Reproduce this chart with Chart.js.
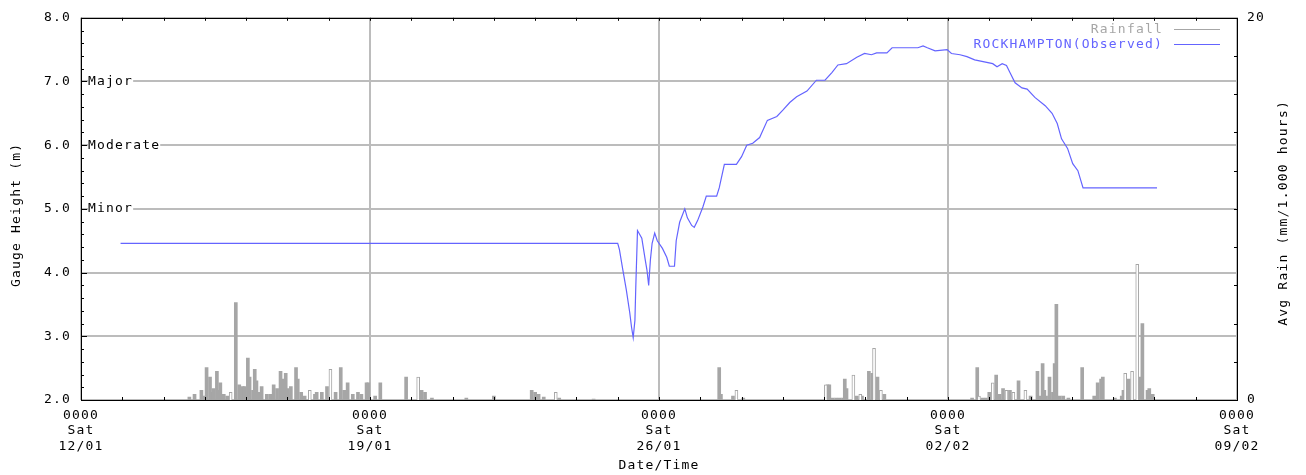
<!DOCTYPE html>
<html>
<head>
<meta charset="utf-8">
<script src="https://cdn.jsdelivr.net/npm/chart.js@4.4.1/dist/chart.umd.min.js"></script>
<style>
html, body { margin: 0; padding: 0; background: #fff; }
</style>
</head>
<body>
<canvas id="grafico" width="1306" height="475"></canvas>
<script>
// horas desde Sat 12/01 0000
const levelHours = [23, 311, 312, 313, 315, 317, 319, 320, 321, 322, 322.5, 323.5, 326, 328, 329, 330, 331, 332, 333.5, 335, 338, 340.5, 342, 345, 346, 348, 351, 352.5, 355, 356.5, 358.5, 361.5, 363.5, 369.5, 371, 374, 381, 384, 387, 390.5, 394.5, 399, 404.5, 408, 412, 416, 422, 427.5, 432.5, 436.5, 440, 445, 451, 455.5, 459.5, 462.5, 468.5, 471.5, 486.5, 489.5, 492, 496.5, 503.5, 506, 511, 515, 519.5, 530, 532.5, 535.5, 538, 540, 543, 547, 550, 554.5, 560.5, 564.5, 567.5, 570, 573.5, 576.5, 579.5, 582.5, 625.5];
const levelHeights = [4.46, 4.46, 4.46, 4.36, 4.04, 3.73, 3.37, 3.15, 2.98, 3.25, 3.77, 4.66, 4.54, 4.2, 4.04, 3.8, 4.2, 4.46, 4.62, 4.5, 4.38, 4.24, 4.1, 4.1, 4.5, 4.79, 5.0, 4.86, 4.74, 4.71, 4.82, 5.03, 5.2, 5.2, 5.33, 5.7, 5.7, 5.82, 6.0, 6.03, 6.12, 6.39, 6.45, 6.55, 6.67, 6.76, 6.85, 7.02, 7.02, 7.14, 7.26, 7.28, 7.38, 7.44, 7.42, 7.45, 7.45, 7.53, 7.53, 7.56, 7.53, 7.48, 7.5, 7.44, 7.42, 7.39, 7.34, 7.28, 7.23, 7.28, 7.25, 7.14, 6.98, 6.9, 6.88, 6.75, 6.62, 6.5, 6.34, 6.1, 5.95, 5.71, 5.6, 5.33, 5.33];

const rainHours = [63, 66, 70, 71, 73, 75, 76, 77, 79, 80, 81, 83, 85, 90, 92, 94, 95, 97, 98, 100, 101, 102, 103, 105, 108, 110, 112, 114, 116, 117, 119, 120, 122, 125, 126, 128, 130, 136, 137, 140, 143, 148, 151, 153, 155, 158, 161, 163, 166, 167, 171, 174, 189, 198, 200, 204, 224, 240, 262, 264, 266, 269, 278, 298,
  371, 372, 379, 385, 434, 435, 437, 439, 441, 443, 444, 445, 451, 454, 458, 460, 463, 467,
  518, 521, 524, 526, 528, 532, 534, 536, 540, 545, 552, 556, 557, 559, 560, 561, 563, 565, 566, 567, 569, 571, 574, 582, 589, 591, 593, 594, 601, 605, 606, 609, 616, 617, 620, 621, 623];
const rainMm = [0.15, 0.3, 0.5, 0.2, 1.7, 1.2, 0.4, 0.6, 1.5, 0.5, 0.9, 0.3, 0.2, 5.1, 0.8, 0.7, 0.7, 2.2, 1.2, 0.5, 1.6, 1.0, 0.4, 0.7, 0.3, 0.3, 0.8, 0.6, 1.5, 1.1, 1.4, 0.6, 0.7, 1.7, 1.1, 0.4, 0.2, 0.3, 0.4, 0.4, 0.7, 0.4, 1.7, 0.5, 0.9, 0.3, 0.4, 0.3, 0.9, 0.9, 0.2, 0.9, 1.2, 0.5, 0.4, 0.1, 0.1, 0.2, 0.5, 0.4, 0.3, 0.15, 0.1, 0.05,
  1.7, 0.3, 0.2, 0.1, 0.8, 0.8, 0.1, 0.1, 0.1, 0.1, 1.1, 0.6, 0.2, 0.2, 1.5, 1.4, 1.2, 0.3,
  0.1, 1.7, 0.1, 0.1, 0.4, 1.3, 0.3, 0.6, 0.5, 1.0, 0.2, 1.5, 0.2, 1.9, 0.5, 0.2, 1.2, 0.4, 1.9, 5.0, 0.2, 0.2, 0.1, 1.7, 0.2, 0.9, 1.1, 1.2, 0.1, 0.2, 0.5, 1.1, 1.2, 4.0, 0.5, 0.6, 0.3];
// barras vazadas
const rainOpenHours = [87, 133, 145, 196, 276, 381, 433, 449, 453, 461, 465, 522, 530, 538, 542, 549, 607, 611, 614];
const rainOpenMm = [0.4, 0.5, 1.6, 1.2, 0.4, 0.5, 0.8, 1.3, 0.3, 2.7, 0.5, 0.2, 0.9, 0.5, 0.4, 0.5, 1.4, 1.5, 7.1];

const weekTicks = [0, 168, 336, 504, 672];
const weekLabels = [['0000', 'Sat', '12/01'], ['0000', 'Sat', '19/01'], ['0000', 'Sat', '26/01'], ['0000', 'Sat', '02/02'], ['0000', 'Sat', '09/02']];
const floodLevels = [5, 6, 7];
const floodNames = ['Minor', 'Moderate', 'Major'];

const FONTE = '13px "DejaVu Sans Mono"';
const AZUL = '#6464ff';
const CINZA = '#a6a6a6';

const extras = {
    id: 'extras',
    beforeDraw(chart) {
        chart.ctx.letterSpacing = '1.2px';
    },
    afterDraw(chart) {
        const ctx = chart.ctx;
        const {left, right, top, bottom} = chart.chartArea;
        const x = chart.scales.x, y = chart.scales.y, y1 = chart.scales.y1;
        ctx.save();
        ctx.letterSpacing = '1.2px';
        ctx.font = FONTE;
        ctx.strokeStyle = '#000';
        ctx.lineWidth = 1;
        ctx.beginPath();
        // tracinhos por dia
        for (let h = 0; h <= 672; h += 24) {
            const px = Math.round(x.getPixelForValue(h)) + 0.5;
            ctx.moveTo(px, bottom); ctx.lineTo(px, bottom - 3);
            ctx.moveTo(px, top); ctx.lineTo(px, top + 3);
        }
        for (let i = 0; i <= 30; i++) {
            const v = 2 + i * 0.2;
            const py = Math.round(y.getPixelForValue(v)) + 0.5;
            const len = i % 5 === 0 ? 6 : 3;
            ctx.moveTo(left, py); ctx.lineTo(left + len, py);
        }
        for (let v = 0; v <= 20; v += 2) {
            const py = Math.round(y1.getPixelForValue(v)) + 0.5;
            ctx.moveTo(right, py); ctx.lineTo(right - 3, py);
        }
        ctx.stroke();
        ctx.strokeRect(Math.round(left) + 0.5, Math.round(top) + 0.5, Math.round(right - left), Math.round(bottom - top));

        // niveis de cheia
        ctx.textBaseline = 'middle';
        ctx.textAlign = 'left';
        floodLevels.forEach((lv, i) => {
            const py = y.getPixelForValue(lv);
            const w = ctx.measureText(floodNames[i]).width;
            ctx.fillStyle = '#fff';
            ctx.fillRect(left + 7, py - 6, w, 12);
            ctx.fillStyle = '#000';
            ctx.fillText(floodNames[i], left + 7, py);
        });

        // legenda
        ctx.textAlign = 'right';
        const itens = [[chart.data.datasets[1].label, CINZA, 30], [chart.data.datasets[0].label, AZUL, 45]];
        itens.forEach(([txt, cor, ly]) => {
            ctx.fillStyle = cor;
            ctx.fillText(txt, right - 74, ly);
            ctx.strokeStyle = cor;
            ctx.beginPath();
            ctx.moveTo(right - 63, ly - 0.5);
            ctx.lineTo(right - 17, ly - 0.5);
            ctx.stroke();
        });

        // titulos
        ctx.fillStyle = '#000';
        ctx.textAlign = 'center';
        const cy = (top + bottom) / 2;
        ctx.save();
        ctx.translate(17, cy + 6);
        ctx.rotate(-Math.PI / 2);
        ctx.fillText('Gauge Height (m)', 0, 0);
        ctx.restore();
        ctx.save();
        ctx.translate(1284, cy + 4);
        ctx.rotate(-Math.PI / 2);
        ctx.fillText('Avg Rain (mm/1.000 hours)', 0, 0);
        ctx.restore();
        ctx.fillText('Date/Time', (left + right) / 2, 466);
        ctx.restore();
    }
};

const ctx = document.getElementById('grafico').getContext('2d');
const grafico = new Chart(ctx, {
    type: 'line',
    data: {
        datasets: [{
            label: 'ROCKHAMPTON(Observed)',
            data: levelHours.map((h, i) => ({x: h, y: levelHeights[i]})),
            borderColor: AZUL,
            borderWidth: 1.2,
            pointRadius: 0,
            tension: 0,
            yAxisID: 'y',
            order: 0
        }, {
            type: 'bar',
            label: 'Rainfall',
            data: rainHours.map((h, i) => ({x: h, y: rainMm[i]})),
            backgroundColor: CINZA,
            borderWidth: 0,
            barThickness: 3,
            grouped: false,
            yAxisID: 'y1',
            order: 2
        }, {
            type: 'bar',
            label: 'Rainfall (open)',
            data: rainOpenHours.map((h, i) => ({x: h, y: rainOpenMm[i]})),
            backgroundColor: '#fff',
            borderColor: CINZA,
            borderWidth: 1,
            barThickness: 3,
            grouped: false,
            yAxisID: 'y1',
            order: 1
        }]
    },
    options: {
        responsive: false,
        animation: false,
        layout: { padding: { top: 17, left: 0, right: 0, bottom: 0 } },
        plugins: { legend: { display: false }, tooltip: { enabled: false } },
        scales: {
            x: {
                type: 'linear',
                min: 0,
                max: 672,
                offset: false,
                afterFit: (s) => { s.height = 75; },
                afterBuildTicks: (s) => { s.ticks = weekTicks.map(v => ({value: v})); },
                ticks: {
                    autoSkip: false,
                    maxRotation: 0,
                    padding: 8,
                    color: '#000',
                    font: { family: 'DejaVu Sans Mono', size: 13, lineHeight: 1.18 },
                    callback: (v) => weekLabels[weekTicks.indexOf(v)]
                },
                grid: { color: '#bcbcbc', lineWidth: 2, drawTicks: false, offset: false },
                border: { display: false }
            },
            y: {
                position: 'left',
                min: 2,
                max: 8,
                afterFit: (s) => { s.width = 81; },
                ticks: {
                    stepSize: 1,
                    padding: 10,
                    color: '#000',
                    font: { family: 'DejaVu Sans Mono', size: 13 },
                    callback: (v) => v.toFixed(1)
                },
                grid: { color: '#bcbcbc', lineWidth: 2, drawTicks: false },
                border: { display: false }
            },
            y1: {
                position: 'right',
                min: 0,
                max: 20,
                afterFit: (s) => { s.width = 69; },
                ticks: {
                    stepSize: 20,
                    padding: 10,
                    color: '#000',
                    font: { family: 'DejaVu Sans Mono', size: 13 }
                },
                grid: { display: false, drawTicks: false },
                border: { display: false }
            }
        }
    },
    plugins: [extras]
});
</script>
</body>
</html>
